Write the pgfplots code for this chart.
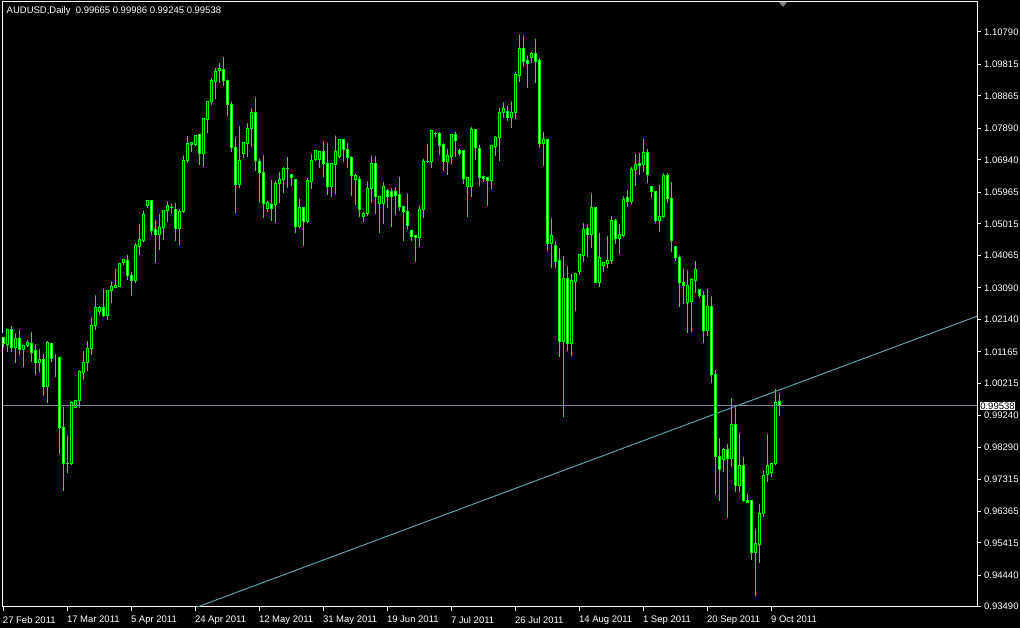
\documentclass[border=0pt]{standalone}
\usepackage{pgfplots}
\pgfplotsset{compat=1.18}
\usepackage{pgfplotstable}
\usepackage{fontspec}
\setmainfont{Liberation Sans}
\definecolor{candle}{RGB}{0,255,0}
\definecolor{bidline}{RGB}{119,136,153}
\definecolor{trend}{RGB}{95,158,170}
\definecolor{shiftmark}{RGB}{128,128,128}
\pgfplotstableread{
i o h l c
0 1.0158 1.0167 1.0131 1.0140
1 1.0139 1.0190 1.0117 1.0184
2 1.0184 1.0200 1.0117 1.0129
3 1.0129 1.0179 1.0083 1.0157
4 1.0157 1.0188 1.0107 1.0124
5 1.0124 1.0144 1.0072 1.0134
6 1.0135 1.0159 1.0132 1.0144
7 1.0142 1.0182 1.0087 1.0115
8 1.0119 1.0145 1.0047 1.0084
9 1.0084 1.0132 1.0057 1.0092
10 1.0092 1.0117 0.9983 1.0011
11 1.0011 1.0155 0.9963 1.0145
12 1.0142 1.0147 1.0087 1.0096
13 1.0096 1.0117 1.0041 1.0096
14 1.0100 1.0102 0.9809 0.9888
15 0.9888 0.9958 0.9698 0.9781
16 0.9781 0.9871 0.9753 0.9780
17 0.9779 0.9974 0.9776 0.9965
18 0.9949 0.9973 0.9946 0.9971
19 0.9971 1.0067 0.9948 1.0056
20 1.0053 1.0125 1.0032 1.0085
21 1.0085 1.0155 1.0060 1.0127
22 1.0126 1.0227 1.0107 1.0197
23 1.0195 1.0293 1.0182 1.0250
24 1.0237 1.0260 1.0227 1.0250
25 1.0250 1.0312 1.0222 1.0227
26 1.0227 1.0302 1.0212 1.0302
27 1.0300 1.0335 1.0262 1.0314
28 1.0311 1.0373 1.0307 1.0317
29 1.0314 1.0388 1.0312 1.0383
30 1.0385 1.0403 1.0378 1.0393
31 1.0390 1.0415 1.0333 1.0345
32 1.0347 1.0363 1.0284 1.0330
33 1.0330 1.0450 1.0324 1.0435
34 1.0433 1.0508 1.0408 1.0453
35 1.0450 1.0548 1.0448 1.0531
36 1.0558 1.0579 1.0549 1.0573
37 1.0573 1.0579 1.0468 1.0481
38 1.0483 1.0521 1.0385 1.0468
39 1.0468 1.0538 1.0423 1.0491
40 1.0490 1.0548 1.0453 1.0543
41 1.0541 1.0576 1.0508 1.0558
42 1.0551 1.0568 1.0531 1.0552
43 1.0545 1.0571 1.0451 1.0487
44 1.0487 1.0553 1.0438 1.0540
45 1.0538 1.0714 1.0535 1.0691
46 1.0691 1.0772 1.0684 1.0744
47 1.0739 1.0754 1.0719 1.0745
48 1.0741 1.0774 1.0736 1.0768
49 1.0771 1.0774 1.0679 1.0714
50 1.0714 1.0822 1.0674 1.0819
51 1.0816 1.0876 1.0776 1.0871
52 1.0869 1.0947 1.0859 1.0932
53 1.0929 1.0977 1.0876 1.0959
54 1.0963 1.0992 1.0926 1.0970
55 1.0965 1.1010 1.0917 1.0932
56 1.0934 1.0943 1.0826 1.0861
57 1.0862 1.0876 1.0719 1.0731
58 1.0732 1.0769 1.0533 1.0621
59 1.0621 1.0802 1.0609 1.0691
60 1.0714 1.0754 1.0699 1.0746
61 1.0743 1.0811 1.0704 1.0787
62 1.0789 1.0857 1.0734 1.0837
63 1.0837 1.0889 1.0662 1.0691
64 1.0689 1.0704 1.0563 1.0656
65 1.0657 1.0716 1.0518 1.0563
66 1.0548 1.0578 1.0538 1.0565
67 1.0560 1.0640 1.0511 1.0547
68 1.0560 1.0636 1.0503 1.0624
69 1.0624 1.0664 1.0565 1.0634
70 1.0634 1.0679 1.0594 1.0669
71 1.0669 1.0709 1.0609 1.0668
72 1.0649 1.0656 1.0615 1.0642
73 1.0634 1.0639 1.0475 1.0493
74 1.0493 1.0583 1.0488 1.0551
75 1.0551 1.0558 1.0436 1.0508
76 1.0508 1.0646 1.0505 1.0631
77 1.0628 1.0719 1.0606 1.0691
78 1.0694 1.0724 1.0692 1.0721
79 1.0694 1.0727 1.0669 1.0719
80 1.0718 1.0757 1.0642 1.0682
81 1.0684 1.0751 1.0588 1.0613
82 1.0613 1.0688 1.0583 1.0682
83 1.0681 1.0774 1.0591 1.0719
84 1.0704 1.0758 1.0699 1.0754
85 1.0754 1.0757 1.0689 1.0726
86 1.0726 1.0751 1.0669 1.0702
87 1.0702 1.0712 1.0585 1.0646
88 1.0636 1.0659 1.0558 1.0646
89 1.0636 1.0651 1.0523 1.0545
90 1.0523 1.0543 1.0508 1.0533
91 1.0533 1.0636 1.0525 1.0609
92 1.0609 1.0714 1.0563 1.0684
93 1.0684 1.0711 1.0531 1.0583
94 1.0563 1.0588 1.0475 1.0583
95 1.0563 1.0634 1.0501 1.0615
96 1.0603 1.0613 1.0548 1.0583
97 1.0600 1.0615 1.0493 1.0583
98 1.0598 1.0618 1.0528 1.0588
99 1.0591 1.0649 1.0541 1.0553
100 1.0555 1.0563 1.0451 1.0538
101 1.0540 1.0600 1.0483 1.0496
102 1.0480 1.0486 1.0451 1.0463
103 1.0466 1.0473 1.0388 1.0460
104 1.0460 1.0564 1.0433 1.0545
105 1.0545 1.0704 1.0518 1.0689
106 1.0689 1.0749 1.0684 1.0688
107 1.0688 1.0791 1.0669 1.0781
108 1.0774 1.0784 1.0764 1.0773
109 1.0774 1.0784 1.0709 1.0738
110 1.0741 1.0751 1.0661 1.0689
111 1.0689 1.0734 1.0649 1.0706
112 1.0704 1.0779 1.0682 1.0771
113 1.0771 1.0786 1.0702 1.0751
114 1.0721 1.0734 1.0706 1.0712
115 1.0721 1.0726 1.0622 1.0637
116 1.0613 1.0643 1.0523 1.0640
117 1.0613 1.0799 1.0581 1.0784
118 1.0784 1.0786 1.0694 1.0731
119 1.0729 1.0746 1.0616 1.0642
120 1.0643 1.0654 1.0628 1.0637
121 1.0642 1.0643 1.0556 1.0631
122 1.0631 1.0742 1.0606 1.0736
123 1.0734 1.0772 1.0707 1.0762
124 1.0762 1.0857 1.0692 1.0837
125 1.0836 1.0874 1.0819 1.0849
126 1.0841 1.0864 1.0811 1.0821
127 1.0821 1.0877 1.0791 1.0837
128 1.0836 1.0967 1.0817 1.0950
129 1.0947 1.1078 1.0929 1.1030
130 1.1030 1.1075 1.0975 1.0990
131 1.0992 1.1015 1.0910 1.0985
132 1.1002 1.1025 1.0985 1.1013
133 1.1013 1.1065 1.0925 1.0990
134 1.0992 1.1007 1.0729 1.0744
135 1.0744 1.0784 1.0677 1.0754
136 1.0754 1.0756 1.0421 1.0443
137 1.0443 1.0525 1.0370 1.0465
138 1.0435 1.0455 1.0370 1.0388
139 1.0390 1.0435 1.0102 1.0147
140 1.0147 1.0411 0.9921 1.0336
141 1.0336 1.0381 1.0120 1.0142
142 1.0142 1.0358 1.0105 1.0330
143 1.0327 1.0360 1.0240 1.0351
144 1.0358 1.0408 1.0348 1.0408
145 1.0406 1.0510 1.0386 1.0483
146 1.0486 1.0505 1.0403 1.0470
147 1.0470 1.0600 1.0430 1.0551
148 1.0551 1.0555 1.0323 1.0324
149 1.0324 1.0480 1.0312 1.0401
150 1.0376 1.0391 1.0357 1.0385
151 1.0383 1.0471 1.0370 1.0390
152 1.0391 1.0531 1.0381 1.0513
153 1.0513 1.0523 1.0441 1.0458
154 1.0456 1.0508 1.0411 1.0468
155 1.0466 1.0591 1.0463 1.0576
156 1.0581 1.0609 1.0553 1.0568
157 1.0568 1.0679 1.0561 1.0666
158 1.0666 1.0719 1.0615 1.0679
159 1.0682 1.0721 1.0649 1.0677
160 1.0679 1.0764 1.0659 1.0717
161 1.0717 1.0734 1.0624 1.0651
162 1.0615 1.0616 1.0580 1.0598
163 1.0600 1.0603 1.0505 1.0513
164 1.0513 1.0625 1.0478 1.0525
165 1.0523 1.0661 1.0520 1.0646
166 1.0646 1.0661 1.0563 1.0578
167 1.0578 1.0634 1.0418 1.0451
168 1.0433 1.0438 1.0391 1.0400
169 1.0401 1.0413 1.0252 1.0324
170 1.0325 1.0375 1.0260 1.0315
171 1.0264 1.0368 1.0174 1.0317
172 1.0267 1.0345 1.0177 1.0333
173 1.0330 1.0396 1.0293 1.0365
174 1.0305 1.0312 1.0277 1.0285
175 1.0287 1.0305 1.0144 1.0180
176 1.0180 1.0312 1.0164 1.0254
177 1.0254 1.0290 1.0023 1.0047
178 1.0049 1.0068 0.9685 0.9801
179 0.9801 0.9863 0.9668 0.9763
180 0.9793 0.9833 0.9756 0.9821
181 0.9821 0.9846 0.9617 0.9794
182 0.9794 0.9983 0.9771 0.9899
183 0.9899 0.9956 0.9695 0.9713
184 0.9713 0.9876 0.9695 0.9773
185 0.9773 0.9806 0.9665 0.9668
186 0.9670 0.9697 0.9660 0.9662
187 0.9670 0.9671 0.9490 0.9512
188 0.9512 0.9590 0.9381 0.9538
189 0.9537 0.9665 0.9482 0.9630
190 0.9630 0.9766 0.9618 0.9743
191 0.9746 0.9876 0.9725 0.9774
192 0.9753 0.9781 0.9740 0.9781
193 0.9781 1.0011 0.9776 0.9964
194 0.99665 0.99986 0.99245 0.99538
}\data
\pgfplotsset{
  mt/.style={
    scale only axis, width=974.5pt, height=605pt,
    at={(2.5pt,21pt)}, anchor=south west,
    xmin=-0.2, xmax=243.4, ymin=0.93482, ymax=1.11693,
  },
}
\newcommand{\lblfont}{\fontsize{9.5}{11}\selectfont}
\begin{document}
\begin{tikzpicture}
\fill[black] (0pt,0pt) rectangle (1020pt,628pt);
% base axis: frame, ticks, wicks
\begin{axis}[mt,
  axis line style={white, line width=1pt},
  tick style={white, line width=1pt},
  tick align=outside, major tick length=4pt,
  xtick pos=left, ytick pos=right, yticklabel pos=right,
  xtick={0,16,32,48,64,80,96,112,128,144,160,176,192},
  xticklabels={27 Feb 2011,17 Mar 2011,5 Apr 2011,24 Apr 2011,12 May 2011,31 May 2011,19 Jun 2011,7 Jul 2011,26 Jul 2011,14 Aug 2011,1 Sep 2011,20 Sep 2011,9 Oct 2011},
  ytick={1.10790,1.09815,1.08865,1.07890,1.06940,1.05965,1.05015,1.04065,1.03090,1.02140,1.01165,1.00215,0.99240,0.98290,0.97315,0.96365,0.95415,0.94440,0.93490},
  yticklabels={1.10790,1.09815,1.08865,1.07890,1.06940,1.05965,1.05015,1.04065,1.03090,1.02140,1.01165,1.00215,0.99240,0.98290,0.97315,0.96365,0.95415,0.94440,0.93490},
  xticklabel style={anchor=north west, inner sep=0pt, text=white, font=\lblfont, xshift=-0.5pt, yshift=-5pt},
  yticklabel style={anchor=west, inner sep=0pt, text=white, font=\lblfont, xshift=3pt},
  minor tick num=0,
]
\addplot[only marks, mark=none,
  error bars/.cd, y dir=minus, y explicit, error mark=none,
  error bar style={draw=candle, line width=1pt}]
  table[x=i, y=h, y error expr=\thisrow{h}-\thisrow{l}] {\data};
\end{axis}
% bodies
\begin{axis}[mt, hide axis, ybar stacked, bar width=2pt]
\addplot[draw=none, fill=none] table[x=i, y expr={min(\thisrow{o},\thisrow{c})}] {\data};
\addplot[draw=candle, fill=black, line width=1pt] table[x=i, y expr={max(\thisrow{c}-\thisrow{o},0)}] {\data};
\addplot[draw=candle, fill=white, line width=1pt] table[x=i, y expr={max(\thisrow{o}-\thisrow{c},0)}] {\data};
\end{axis}
% objects
\begin{axis}[mt, hide axis, clip mode=individual]
\addplot[bidline, line width=1pt] coordinates {(-0.2,0.99538) (243.4,0.99538)};
\addplot[trend, line width=1pt] coordinates {(40,0.9310) (250,1.0253)};
\node[fill=white, text=black, inner sep=0.6pt, anchor=west, font=\lblfont, xshift=2.5pt] at (axis cs:243.4,0.99538) {0.99538};
\end{axis}
\node[anchor=base west, text=white, inner sep=0pt, font=\lblfont] at (6.5pt,614pt) {AUDUSD,Daily~~0.99665 0.99986 0.99245 0.99538};
\fill[shiftmark] (779pt,626pt) -- (787pt,626pt) -- (783pt,621pt) -- cycle;
\pgfresetboundingbox
\path[use as bounding box] (0pt,0pt) rectangle (1020pt,628pt);
\end{tikzpicture}
\end{document}
